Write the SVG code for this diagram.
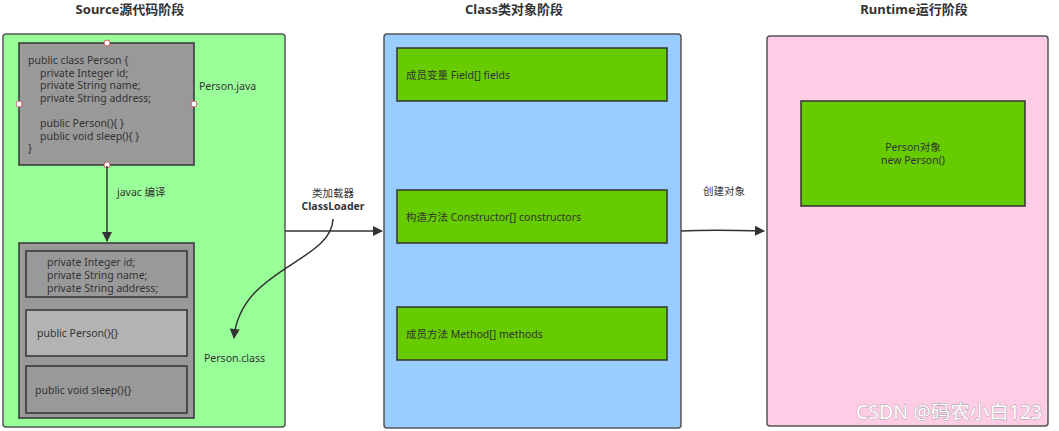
<svg xmlns="http://www.w3.org/2000/svg" width="1059" height="431" viewBox="0 0 1059 431">
<style>
text{font-family:"Noto Sans","Noto Sans CJK SC",sans-serif;fill:#333;font-size:10.5px}
.title{font-weight:bold;font-size:13px;fill:#333;text-anchor:middle}
.panel{stroke:#555;stroke-width:1.5}
.box{stroke:#333;stroke-width:1.5}
.gray{fill:#999999}
.lgray{fill:#b3b3b3}
.green{fill:#66cc00}
.ctr{text-anchor:middle}
.pt{fill:#fff;stroke:#c66;stroke-width:1}
.conn{fill:none;stroke:#333;stroke-width:1.5}
</style>
<defs>
<marker id="arrL" viewBox="0 0 10 10" refX="9" refY="5" markerWidth="12" markerHeight="10" markerUnits="userSpaceOnUse" orient="auto">
<path d="M0,0 L10,5 L0,10 z" fill="#333"/>
</marker>
</defs>
<rect width="1059" height="431" fill="#fff"/>

<g id="source-panel">
<text class="title" x="130" y="14">Source源代码阶段</text>
<rect class="panel" x="3" y="34" width="282" height="393" rx="3" fill="#99ff99"/>
</g>

<g id="person-java">
<rect class="box gray" x="19" y="43" width="175" height="122"/>
<text x="28" y="64">public class Person {</text>
<text x="40" y="76.5">private Integer id;</text>
<text x="40" y="89">private String name;</text>
<text x="40" y="101.5">private String address;</text>
<text x="40" y="127">public Person(){ }</text>
<text x="40" y="139.5">public void sleep(){ }</text>
<text x="28" y="152">}</text>
<circle class="pt" cx="107" cy="43" r="3"/>
<circle class="pt" cx="19" cy="104" r="3"/>
<circle class="pt" cx="194" cy="104" r="3"/>
<circle class="pt" cx="107" cy="165" r="3"/>
<text x="199" y="90">Person.java</text>
</g>

<g id="person-class">
<rect class="box gray" x="19" y="243" width="175" height="175"/>
<rect class="box gray" x="26" y="251" width="161" height="46"/>
<text x="47" y="266">private Integer id;</text>
<text x="47" y="279">private String name;</text>
<text x="47" y="292">private String address;</text>
<rect class="box lgray" x="26" y="310" width="161" height="46"/>
<text x="37" y="337">public Person(){}</text>
<rect class="box gray" x="26" y="366" width="161" height="47"/>
<text x="35" y="394">public void sleep(){}</text>
<text x="204" y="362">Person.class</text>
</g>

<g id="class-panel">
<text class="title" x="514" y="14">Class类对象阶段</text>
<rect class="panel" x="384" y="34" width="297" height="394" rx="3" fill="#99ccff"/>
<rect class="box green" x="397" y="48" width="270" height="53"/>
<text x="406" y="79">成员变量 Field[] fields</text>
<rect class="box green" x="397" y="190" width="270" height="53"/>
<text x="406" y="221">构造方法 Constructor[] constructors</text>
<rect class="box green" x="397" y="307" width="270" height="53"/>
<text x="406" y="338">成员方法 Method[] methods</text>
</g>

<g id="runtime-panel">
<text class="title" x="914" y="14">Runtime运行阶段</text>
<rect class="panel" x="767" y="36" width="281" height="390" rx="3" fill="#ffcce6"/>
<rect class="box green" x="801" y="101" width="224" height="105"/>
<text class="ctr" x="913" y="151">Person对象</text>
<text class="ctr" x="913" y="164">new Person()</text>
</g>

<g id="connectors">
<path class="conn" d="M107,166 L107,241" marker-end="url(#arrL)"/>
<text x="117" y="196">javac 编译</text>
<path class="conn" d="M285,231 L382,231" marker-end="url(#arrL)"/>
<text class="ctr" x="333" y="197">类加载器</text>
<text class="ctr" x="333" y="210" style="font-weight:bold;fill:#333">ClassLoader</text>
<path class="conn" d="M333,219 C332,262 240,268 234,338" marker-end="url(#arrL)"/>
<path class="conn" d="M681,231 C700,230 730,230 764,231" marker-end="url(#arrL)"/>
<text x="703" y="195">创建对象</text>
</g>

<text x="856" y="419" style="font-size:19.5px;fill:#fff;stroke:#999;stroke-width:0.8;paint-order:stroke">CSDN @码农小白123</text>
</svg>
